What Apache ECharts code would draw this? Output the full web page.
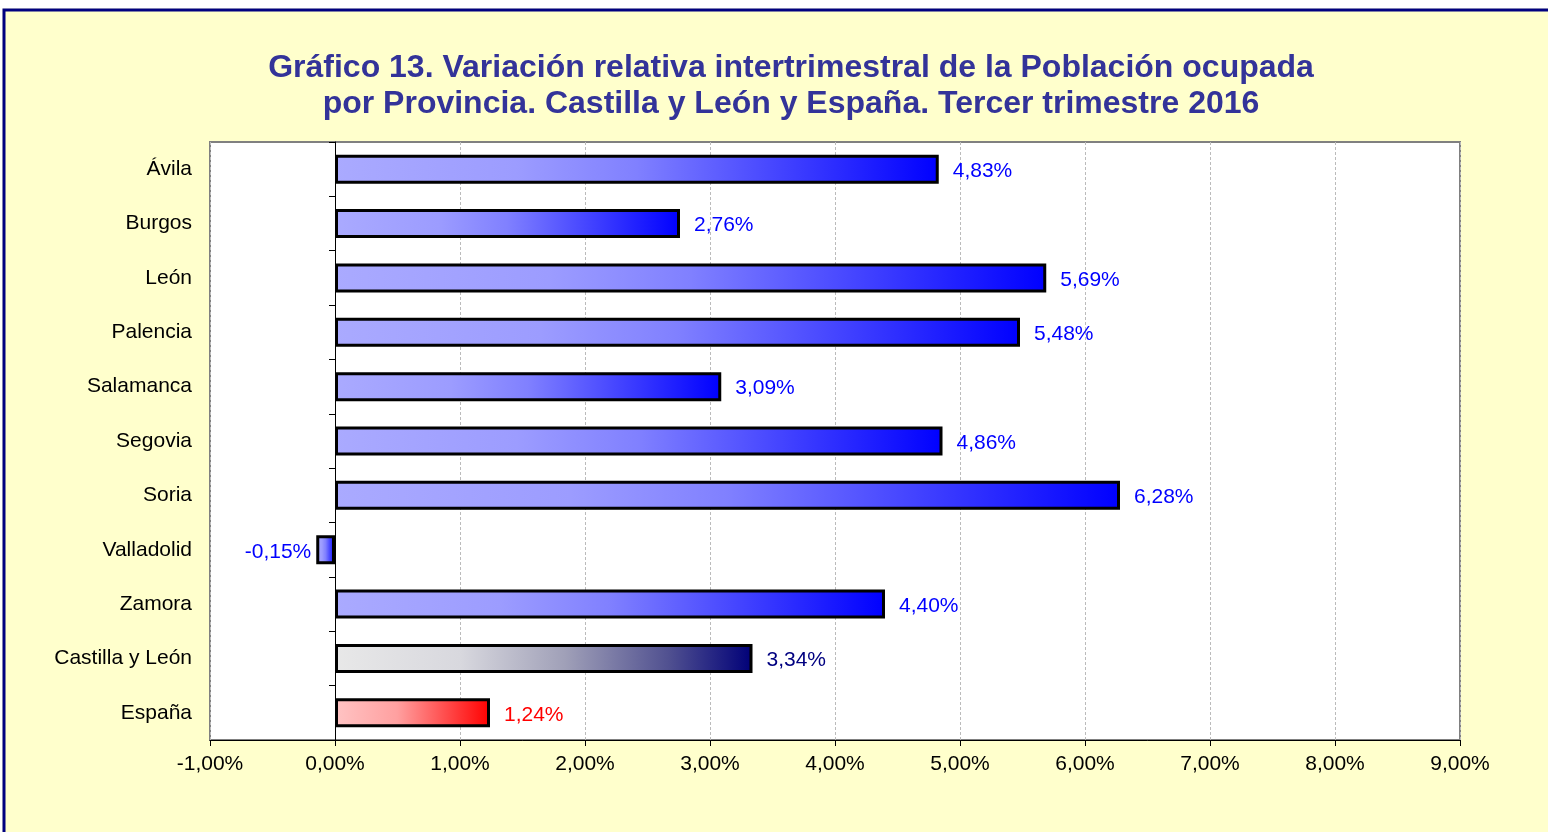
<!DOCTYPE html>
<html>
<head>
<meta charset="utf-8">
<script src="https://cdn.jsdelivr.net/npm/echarts@6/dist/echarts.min.js"></script>
<style>
html,body{margin:0;padding:0;background:#ffffff;}
#main{width:1548px;height:832px;}
</style>
</head>
<body>
<div id="main"></div>
<script>
const categories = ['Ávila','Burgos','León','Palencia','Salamanca','Segovia','Soria','Valladolid','Zamora','Castilla y León','España'];
const values = [4.83, 2.76, 5.69, 5.48, 3.09, 4.86, 6.28, -0.15, 4.40, 3.34, 1.24];
const xTicks = { min: -1, max: 9, interval: 1 };
const titleLines = ['Gráfico 13. Variación relativa intertrimestral de la Población ocupada', 'por Provincia. Castilla y León y España. Tercer trimestre 2016'];

const FONT = '"Liberation Sans", Arial, sans-serif';
const fmt = v => v.toFixed(2).replace('.', ',') + '%';

function grad(stops) {
  return { type: 'linear', x: 0, y: 0, x2: 1, y2: 0, colorStops: stops.map(s => ({ offset: s[0], color: s[1] })) };
}
const blueGrad = grad([[0,'#AAAAFF'],[0.3,'#9C9CFF'],[0.5,'#8080FF'],[0.75,'#4040FF'],[1,'#0000FF']]);
const navyGrad = grad([[0,'#E8E8E8'],[0.3,'#D8D8DE'],[0.55,'#A0A0B8'],[0.8,'#505090'],[1,'#000078']]);
const redGrad = grad([[0,'#FFC4C4'],[0.4,'#FFA0A0'],[1,'#FF0000']]);

const data = values.map((v, i) => {
  const name = categories[i];
  let color = blueGrad, lc = '#0000FF';
  if (name === 'Castilla y León') { color = navyGrad; lc = '#000080'; }
  if (name === 'España') { color = redGrad; lc = '#FF0000'; }
  return {
    value: v,
    itemStyle: { color: color },
    label: { color: lc, position: v < 0 ? 'left' : 'right', distance: v < 0 ? 5 : 14 }
  };
});

const chart = echarts.init(document.getElementById('main'));
chart.setOption({
  backgroundColor: '#FFFFCC',
  animation: false,
  graphic: [{
    type: 'rect', z: 100, silent: true,
    shape: { x: 4, y: 10, width: 1560, height: 840 },
    style: { fill: 'none', stroke: '#000080', lineWidth: 3 }
  }, {
    type: 'rect', z: -10, silent: true,
    shape: { x: 0, y: 0, width: 1548, height: 8.5 },
    style: { fill: '#ffffff' }
  }, {
    type: 'rect', z: -10, silent: true,
    shape: { x: 0, y: 0, width: 2.5, height: 832 },
    style: { fill: '#ffffff' }
  }],
  title: {
    text: titleLines.join('\n'),
    left: 786, textAlign: 'center', top: 45,
    textStyle: { fontFamily: FONT, fontSize: 32, fontWeight: 'bold', color: '#333399', lineHeight: 36 }
  },
  grid: {
    left: 210, right: 88, top: 142, bottom: 92,
    show: true, backgroundColor: '#ffffff', borderColor: '#808080', borderWidth: 2
  },
  xAxis: {
    type: 'value', min: xTicks.min, max: xTicks.max, interval: xTicks.interval,
    axisLine: { show: true, onZero: false, lineStyle: { color: '#000000', width: 1 } },
    axisTick: { show: true, length: 6, lineStyle: { color: '#000000' } },
    axisLabel: { formatter: fmt, fontFamily: FONT, fontSize: 21, color: '#000000', margin: 14 },
    splitLine: { show: true, lineStyle: { color: '#BBBBBB', type: [3, 2], width: 1 } }
  },
  yAxis: [{
    type: 'category', data: categories, inverse: true,
    axisLine: { show: false, onZero: false }, axisTick: { show: false },
    axisLabel: { fontFamily: FONT, fontSize: 21, color: '#000000', margin: 18 }
  }, {
    type: 'category', data: categories, inverse: true, position: 'left',
    axisLine: { show: true, onZero: true, onZeroAxisIndex: 0, lineStyle: { color: '#000000', width: 1 } },
    axisTick: { show: true, length: 6, lineStyle: { color: '#000000' } },
    axisLabel: { show: false }
  }],
  series: [{
    type: 'bar', yAxisIndex: 0, data: data, barWidth: 29,
    itemStyle: { borderColor: '#000000', borderWidth: 3 },
    label: {
      show: true, fontFamily: FONT, fontSize: 21, offset: [0, 2],
      formatter: p => fmt(p.value)
    },
    z: 3
  }]
});
</script>
</body>
</html>
